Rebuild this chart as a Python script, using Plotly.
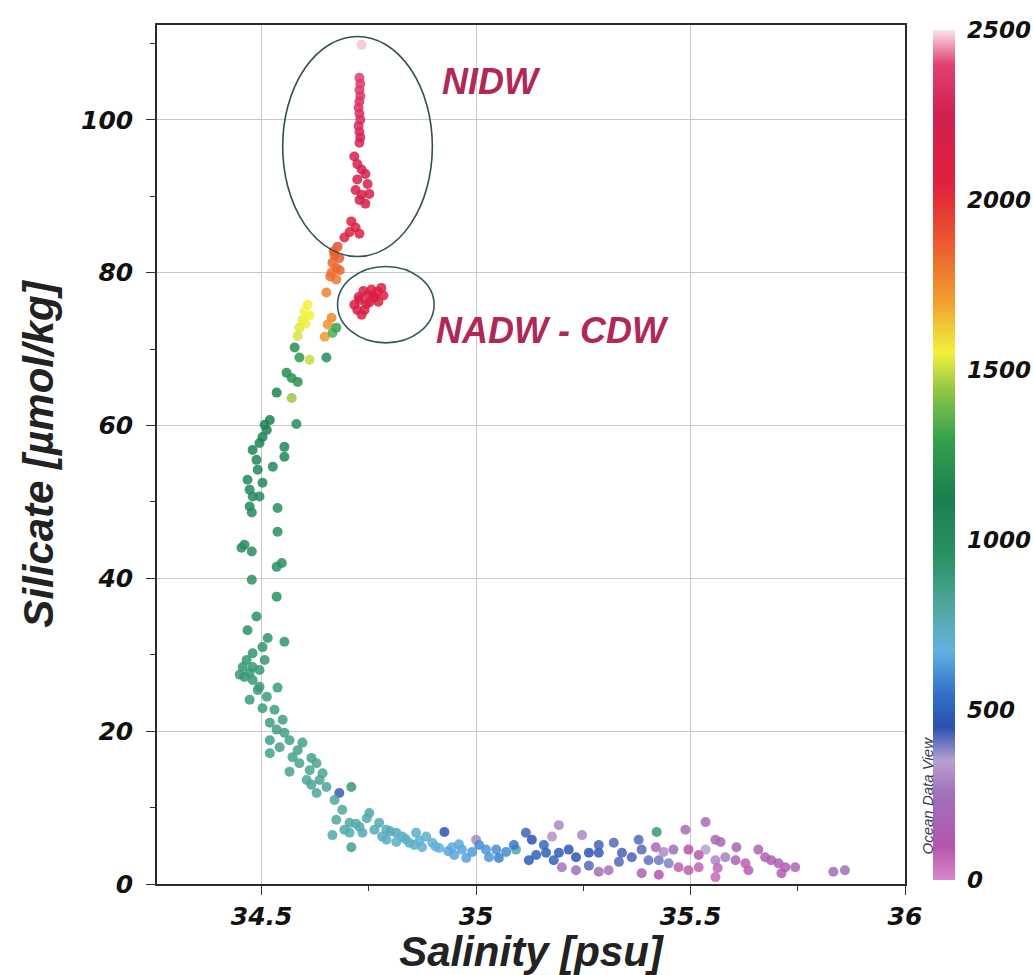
import plotly.graph_objects as go

# Salinity [psu], silicate [umol/kg] and sample depth [m] of each bottle sample
salinity = [
    34.733, 34.728, 34.730, 34.728, 34.730, 34.728, 34.726, 34.728, 34.730, 34.726,
    34.728, 34.730, 34.728, 34.716, 34.723, 34.733, 34.742, 34.723, 34.747, 34.719,
    34.733, 34.751, 34.728, 34.742, 34.709, 34.719, 34.705, 34.728, 34.693,
    34.677, 34.670, 34.681, 34.665, 34.674, 34.663, 34.674, 34.651, 34.663, 34.654,
    34.647, 34.665, 34.674,
    34.716, 34.728, 34.740, 34.747, 34.756, 34.763, 34.770, 34.779, 34.733, 34.751,
    34.784, 34.723,
    34.607, 34.600, 34.595, 34.588, 34.584, 34.612, 34.602, 34.612, 34.570,
    34.577, 34.588, 34.651, 34.558, 34.570, 34.584, 34.535, 34.519, 34.581, 34.512,
    34.502, 34.495, 34.479, 34.488, 34.553, 34.553, 34.526, 34.467, 34.502, 34.479,
    34.472, 34.477, 34.495, 34.537, 34.537, 34.453, 34.477, 34.547, 34.535, 34.477,
    34.535, 34.488, 34.467, 34.514, 34.553, 34.502, 34.479, 34.465, 34.456, 34.479,
    34.495, 34.460, 34.479, 34.495, 34.537, 34.472, 34.512, 34.502, 34.530, 34.519,
    34.535, 34.519, 34.565, 34.595, 34.542, 34.519, 34.572, 34.588, 34.565, 34.612,
    34.628, 34.605, 34.635, 34.651, 34.628, 34.681, 34.709, 34.688, 34.751, 34.674,
    34.705, 34.728, 34.774, 34.791, 34.814, 34.665, 34.705, 34.735, 34.781, 34.828,
    34.860, 34.884, 34.844, 34.814, 34.791, 34.709, 34.874, 34.898, 34.926, 34.944,
    34.967, 34.977, 35.000, 34.991, 35.023, 35.047, 35.070, 35.093, 35.116, 35.130,
    35.140, 35.163, 35.193, 35.177, 35.193, 35.216, 35.247, 35.233, 35.263, 35.200,
    35.233, 35.123, 35.286, 35.321, 35.340, 35.363, 35.386, 35.419, 35.421, 35.402,
    35.426, 35.449, 35.386, 35.286, 35.309, 35.488, 35.535, 35.495, 35.472, 35.495,
    35.519, 35.558, 35.570, 35.535, 35.558, 35.581, 35.558, 35.607, 35.605, 35.628,
    35.635, 35.658, 35.674, 35.688, 35.705, 35.721, 35.744, 35.712, 35.833, 35.860,
    35.007, 35.053, 35.088, 35.158, 35.181, 35.286, 35.333, 35.379, 35.437, 35.460,
    35.519, 35.563, 35.426, 35.263,
    34.472, 34.449, 34.507, 34.491, 34.549, 34.553, 34.584, 34.616, 34.642, 34.670,
    34.616, 34.693, 34.763, 34.856, 34.914, 34.949, 35.030,
    34.507, 34.491, 34.472, 34.460,
    34.744, 34.760, 34.772, 34.737, 34.726, 34.668, 34.660, 34.682,
    34.720, 34.745, 34.800, 34.835, 34.868, 34.905, 34.935, 34.960,
]

silicate = [
    109.8, 105.5, 104.7, 103.9, 103.1, 102.4, 101.6, 100.8, 100.0, 99.2,
    98.4, 97.7, 97.0, 95.2, 94.2, 93.5, 92.9, 92.2, 91.6, 90.8,
    90.2, 90.3, 89.5, 89.0, 86.7, 85.9, 85.3, 85.1, 84.6,
    83.4, 82.3, 81.9, 81.3, 80.6, 80.0, 79.1, 77.4, 74.1, 73.2,
    71.6, 72.1, 72.8,
    75.8, 76.4, 75.1, 77.1, 77.8, 76.7, 77.5, 78.0, 74.5, 76.1,
    77.0, 75.1,
    75.8, 74.9, 73.8, 72.8, 71.7, 74.4, 73.3, 68.6, 63.6,
    70.2, 68.9, 68.9, 66.9, 66.2, 65.7, 64.3, 60.7, 60.2, 59.4,
    58.5, 57.7, 56.8, 55.5, 57.2, 55.9, 54.6, 52.9, 52.5, 50.7,
    49.4, 48.6, 50.7, 49.2, 46.1, 44.0, 43.5, 42.0, 41.5, 39.8,
    37.6, 35.0, 33.2, 32.2, 31.7, 31.0, 30.2, 29.3, 28.4, 28.4,
    28.0, 27.1, 26.7, 25.8, 25.7, 24.1, 24.5, 23.0, 22.8, 21.1,
    20.2, 18.8, 18.8, 18.5, 17.9, 17.1, 16.6, 15.8, 14.7, 14.9,
    15.8, 13.6, 13.6, 12.7, 11.9, 11.9, 12.7, 9.7, 9.3, 8.4,
    8.0, 7.5, 8.0, 7.1, 6.7, 6.4, 6.7, 6.7, 6.2, 6.2,
    6.7, 6.2, 5.4, 5.5, 5.8, 4.8, 4.8, 5.4, 6.8, 4.8,
    4.5, 3.4, 5.8, 4.2, 4.5, 4.5, 4.2, 4.5, 6.7, 5.8,
    3.8, 4.1, 7.7, 6.2, 4.1, 4.5, 6.4, 3.5, 4.1, 2.2,
    1.8, 3.1, 4.1, 5.4, 4.1, 3.5, 4.5, 4.8, 6.8, 3.1,
    3.1, 2.7, 1.4, 1.6, 1.8, 7.1, 8.1, 4.5, 2.2, 1.8,
    2.2, 5.8, 5.5, 4.5, 3.1, 3.5, 0.9, 4.8, 3.1, 2.7,
    1.8, 4.5, 3.5, 3.1, 2.7, 2.2, 2.2, 1.4, 1.6, 1.8,
    5.1, 3.4, 5.1, 5.1, 3.1, 5.1, 2.9, 5.8, 4.2, 4.5,
    3.8, 2.1, 1.2, 2.4,
    27.6, 27.4, 29.3, 25.4, 21.5, 19.8, 17.5, 16.5, 14.5, 11.0,
    13.0, 7.1, 7.1, 5.1, 4.7, 3.8, 3.5,
    60.1, 54.2, 51.6, 44.4,
    75.9, 76.9, 76.2, 77.6, 76.8, 82.8, 79.5, 80.3,
    7.9, 8.6, 6.9, 5.9, 5.7, 4.9, 4.3, 5.2,
]

depth = [
    2480, 2380, 2370, 2360, 2350, 2340, 2330, 2320, 2310, 2300,
    2290, 2280, 2270, 2250, 2240, 2230, 2220, 2210, 2200, 2190,
    2180, 2175, 2170, 2160, 2120, 2110, 2100, 2090, 2080,
    1900, 1880, 1870, 1850, 1840, 1820, 1800, 1780, 1760, 1740,
    1720, 1350, 1300,
    2150, 2160, 2140, 2130, 2120, 2110, 2100, 2095, 2150, 2140,
    2080, 2160,
    1560, 1550, 1540, 1530, 1520, 1550, 1545, 1500, 1450,
    1200, 1250, 1000, 1200, 1220, 1230, 1150, 1100, 1000, 1100,
    1090, 1080, 1070, 1060, 1050, 1050, 1040, 1030, 1030, 1020,
    1010, 1010, 1020, 1000, 1000, 990, 990, 980, 980, 970,
    960, 950, 940, 930, 920, 930, 920, 915, 910, 910,
    905, 900, 900, 895, 890, 890, 885, 880, 875, 870,
    865, 860, 860, 855, 850, 850, 845, 840, 835, 830,
    830, 825, 820, 815, 815, 440, 900, 800, 790, 800,
    790, 780, 770, 760, 750, 790, 780, 770, 750, 730,
    720, 710, 720, 730, 740, 850, 700, 690, 450, 660,
    650, 640, 300, 630, 620, 610, 600, 800, 430, 450,
    500, 490, 300, 320, 480, 470, 300, 460, 450, 260,
    250, 480, 440, 420, 430, 430, 420, 200, 900, 410,
    400, 390, 150, 250, 260, 220, 230, 100, 80, 80,
    70, 200, 200, 350, 300, 280, 60, 180, 170, 80,
    90, 170, 160, 150, 150, 140, 200, 130, 250, 250,
    600, 580, 560, 520, 500, 430, 420, 420, 300, 250,
    120, 70, 100, 420,
    905, 900, 915, 895, 870, 865, 850, 840, 825, 810,
    825, 790, 770, 720, 680, 650, 620,
    1100, 1050, 1030, 990,
    2140, 2120, 2110, 2130, 2150, 1860, 1830, 1850,
    780, 770, 750, 725, 705, 670, 650, 660,
]

depth_ticks = [0, 500, 1000, 1500, 2000, 2500]
salinity_ticks = [34.5, 35, 35.5, 36]
silicate_ticks = [0, 20, 40, 60, 80, 100]

# Ocean Data View style rainbow palette
odv_scale = [
    [0.00, "#dc86cc"],
    [0.04, "#b456ac"],
    [0.10, "#a070b8"],
    [0.14, "#b8a0d0"],
    [0.18, "#2a52b0"],
    [0.22, "#3272c8"],
    [0.27, "#62b2e2"],
    [0.32, "#4fa8a0"],
    [0.38, "#2a9262"],
    [0.45, "#1a7f50"],
    [0.52, "#34a24e"],
    [0.58, "#98c844"],
    [0.62, "#f2f23e"],
    [0.68, "#f2a030"],
    [0.76, "#e85030"],
    [0.82, "#e0203c"],
    [0.90, "#d02050"],
    [0.96, "#e04272"],
    [1.00, "#fbe4ec"],
]

tick_font = dict(family="DejaVu Sans", size=25, color="#111111",
                 weight="bold", style="italic")
title_font = dict(family="Liberation Sans", size=42, color="#222222",
                  weight="bold", style="italic")
label_color = "#b02858"

fig = go.Figure()

fig.add_trace(go.Scatter(
    x=salinity,
    y=silicate,
    mode="markers",
    marker=dict(
        size=10,
        color=depth,
        colorscale=odv_scale,
        cmin=0,
        cmax=2500,
        opacity=0.85,
        line=dict(width=0),
        colorbar=dict(
            x=1.0374, xanchor="left", xpad=0,
            y=0.4994, yanchor="middle", ypad=0,
            len=0.99, lenmode="fraction",
            thickness=22, thicknessmode="pixels",
            outlinewidth=0,
            tickvals=depth_ticks,
            ticks="outside", ticklen=8, tickcolor="rgba(0,0,0,0)",
            tickfont=dict(family="DejaVu Sans", size=23, color="#111111",
                          weight="bold", style="italic"),
        ),
    ),
    showlegend=False,
    hoverinfo="skip",
))

# Water-mass outlines
fig.add_shape(type="circle", xref="x", yref="y",
              x0=34.549, x1=34.898, y0=82.1, y1=110.9,
              line=dict(color="#34504e", width=1.6))
fig.add_shape(type="circle", xref="x", yref="y",
              x0=34.677, x1=34.902, y0=70.8, y1=80.8,
              line=dict(color="#2f5a5e", width=1.6))

fig.add_annotation(x=35.035, y=105.0, xref="x", yref="y", text="NIDW",
                   showarrow=False,
                   font=dict(family="Liberation Sans", size=36, color=label_color,
                             weight="bold", style="italic"))
fig.add_annotation(x=35.177, y=72.4, xref="x", yref="y", text="NADW - CDW",
                   showarrow=False,
                   font=dict(family="Liberation Sans", size=36, color=label_color,
                             weight="bold", style="italic"))
fig.add_annotation(x=1.0307, y=0.103, xref="paper", yref="paper",
                   xanchor="center", yanchor="middle",
                   text="Ocean Data View", textangle=-90, showarrow=False,
                   font=dict(family="Liberation Sans", size=15, color="#3a3a5a",
                             style="italic"))

fig.update_xaxes(
    range=[34.256, 36.0],
    tickvals=salinity_ticks,
    ticktext=["34.5", "35", "35.5", "36"],
    ticks="outside", ticklen=9, tickwidth=1.2, tickcolor="#333333",
    minor=dict(dtick=0.25, ticks="outside", ticklen=5, tickcolor="#333333",
               showgrid=False),
    showgrid=True, gridcolor="#c8c8c8", gridwidth=1,
    showline=True, linecolor="#2a2a2a", linewidth=1.5, mirror=True,
    zeroline=False,
    tickfont=tick_font,
    title=dict(text="Salinity [psu]", font=title_font, standoff=2),
)
fig.update_yaxes(
    range=[0, 112.4],
    tickvals=silicate_ticks,
    ticks="outside", ticklen=9, tickwidth=1.2, tickcolor="#333333",
    minor=dict(dtick=10, ticks="outside", ticklen=5, tickcolor="#333333",
               showgrid=False),
    showgrid=True, gridcolor="#c8c8c8", gridwidth=1,
    showline=True, linecolor="#2a2a2a", linewidth=1.5, mirror=True,
    zeroline=False,
    tickfont=tick_font,
    ticklabelstandoff=8,
    title=dict(text="Silicate [µmol/kg]", font=title_font, standoff=14),
)

fig.update_layout(
    width=1033,
    height=975,
    margin=dict(l=157, r=128, t=25, b=91, autoexpand=False),
    paper_bgcolor="white",
    plot_bgcolor="white",
)

fig.write_html("out.html")
